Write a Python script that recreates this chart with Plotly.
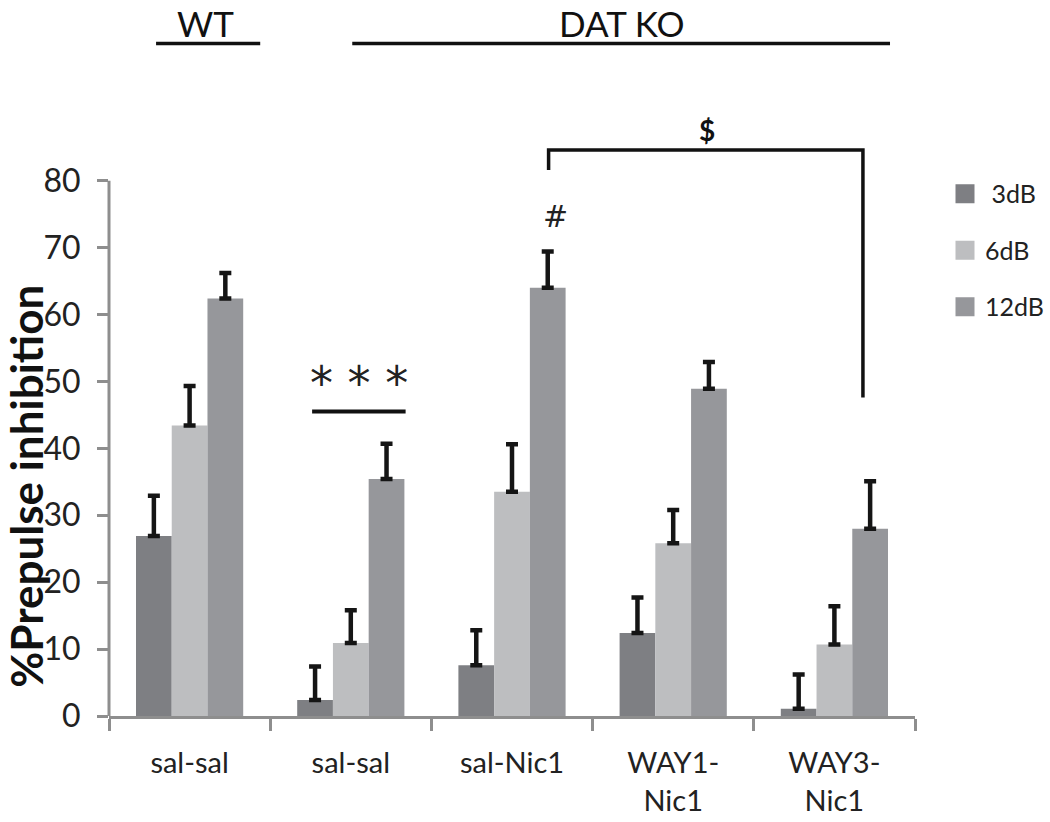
import plotly.graph_objects as go

# ---------------- data ----------------
group_labels = ["sal-sal", "sal-sal", "sal-Nic1", "WAY1-<br>Nic1", "WAY3-<br>Nic1"]
series_names = [" 3dB", "6dB", "12dB"]
pi_3db = [26.9, 2.4, 7.6, 12.4, 1.1]
pi_6db = [43.4, 10.9, 33.5, 25.8, 10.7]
pi_12db = [62.4, 35.4, 64.0, 48.9, 28.0]
sem_3db = [6.0, 5.0, 5.2, 5.3, 5.1]
sem_6db = [5.9, 4.9, 7.1, 5.0, 5.7]
sem_12db = [3.8, 5.3, 5.4, 4.0, 7.1]
y_tick_vals = [0, 10, 20, 30, 40, 50, 60, 70, 80]

colors = ["#7e7f83", "#bdbec0", "#96979b"]
axis_gray = "#8e8e8e"
FONT = "Lato, Carlito, 'Open Sans', sans-serif"

x_pos = list(range(len(group_labels)))
values = [pi_3db, pi_6db, pi_12db]
sems = [sem_3db, sem_6db, sem_12db]

fig = go.Figure()
for name, vals, err, col in zip(series_names, values, sems, colors):
    fig.add_trace(go.Bar(
        x=x_pos, y=vals, name=name, marker=dict(color=col, line=dict(width=0)),
        showlegend=False,
        error_y=dict(type="data", symmetric=False, array=err,
                     arrayminus=[0] * len(err), color="#151515",
                     thickness=4.5, width=6),
    ))
# legend entries (square swatches)
for i, (name, col) in enumerate(zip(series_names, colors)):
    fig.add_trace(go.Scatter(
        x=[None], y=[None], mode="markers", name=name, legendgroup=str(i),
        marker=dict(symbol="square", size=16, color=col,
                    line=dict(color=col, width=3)),
    ))

# y-axis line (only 0..80)
fig.add_shape(type="line", xref="paper", yref="y", x0=0, x1=0, y0=0, y1=80,
              line=dict(color=axis_gray, width=3))

# group headers
fig.add_annotation(x=0.10, y=103.6, xref="x", yref="y", text="WT", showarrow=False,
                   font=dict(size=35, color="#111", family=FONT), yanchor="middle")
fig.add_shape(type="line", xref="x", yref="y", x0=-0.208, x1=0.438, y0=100.5, y1=100.5,
              line=dict(color="#111", width=3.5))
fig.add_annotation(x=2.68, y=103.6, xref="x", yref="y", text="DAT KO", showarrow=False,
                   font=dict(size=35, color="#111", family=FONT), yanchor="middle")
fig.add_shape(type="line", xref="x", yref="y", x0=1.009, x1=4.345, y0=100.5, y1=100.5,
              line=dict(color="#111", width=3.5))

# significance marks
fig.add_shape(type="line", xref="x", yref="y", x0=0.76, x1=1.34, y0=45.5, y1=45.5,
              line=dict(color="#111", width=4))
fig.add_annotation(x=1.05, y=49.8, xref="x", yref="y", text="* * *", showarrow=False,
                   font=dict(size=46, color="#222", family="DejaVu Sans"), yanchor="middle")
fig.add_annotation(x=2.27, y=74.6, xref="x", yref="y", text="#", showarrow=False,
                   font=dict(size=30, color="#222", family="DejaVu Sans"), yanchor="middle")
fig.add_shape(type="path", xref="x", yref="y",
              path="M 2.227,81.6 L 2.227,84.6 L 4.177,84.6 L 4.177,47.6",
              line=dict(color="#111", width=3.5))
fig.add_annotation(x=3.21, y=87.5, xref="x", yref="y", text="<b>$</b>", showarrow=False,
                   font=dict(size=28, color="#111", family=FONT), yanchor="middle")

# y-axis title
fig.add_annotation(x=-0.103, y=34.4, xref="paper", yref="y", text="<b>%Prepulse inhibition</b>",
                   textangle=-90, showarrow=False, xanchor="center", yanchor="middle",
                   font=dict(size=44, color="#111", family=FONT))

fig.update_layout(
    width=1050, height=822,
    margin=dict(l=109, r=135, t=0, b=106, autoexpand=False),
    paper_bgcolor="white", plot_bgcolor="white",
    barmode="group", bargap=0.335, bargroupgap=0,
    font=dict(family=FONT, color="#222"),
    legend=dict(xref="container", yref="container", x=0.9, y=0.792,
                xanchor="left", yanchor="top",
                font=dict(size=25, family=FONT, color="#222"),
                tracegroupgap=21, traceorder="grouped",
                bgcolor="rgba(0,0,0,0)", itemclick=False),
    xaxis=dict(range=[-0.5, 4.5], tickvals=x_pos, ticktext=group_labels,
               showline=True, linecolor=axis_gray, linewidth=3, ticks="",
               showgrid=False, zeroline=False, automargin=False,
               ticklabelstandoff=19,
               tickfont=dict(size=29, family=FONT, color="#222"),
               minor=dict(tickvals=[-0.5, 0.5, 1.5, 2.5, 3.5, 4.5], ticks="outside",
                          ticklen=12, tickwidth=3, tickcolor=axis_gray, showgrid=False)),
    yaxis=dict(range=[0, 107], tickvals=y_tick_vals, showline=False,
               ticks="outside", ticklen=11, tickwidth=3, tickcolor=axis_gray,
               showgrid=False, zeroline=False, automargin=False,
               ticklabelstandoff=10,
               tickfont=dict(size=32, family=FONT, color="#222")),
)

fig.write_html("out.html", config={"displayModeBar": False},
               post_script="document.body.style.margin='0';document.body.style.overflow='hidden';")
